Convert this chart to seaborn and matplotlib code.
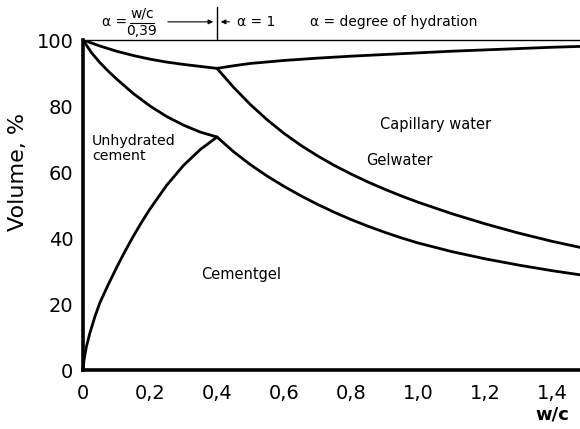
import numpy as np
import pandas as pd
import matplotlib
matplotlib.use('Agg')
import matplotlib.pyplot as plt
import seaborn as sns

# Curve points (w/c, Volume %)
wc_shrink_left = [0.0, 0.05, 0.1, 0.15, 0.2, 0.25, 0.3, 0.35, 0.4]
vol_shrink_left = [100.0, 98.2, 96.6, 95.3, 94.2, 93.3, 92.6, 92.0, 91.4]

wc_shrink_right = [0.4, 0.45, 0.5, 0.6, 0.7, 0.8, 0.9, 1.0, 1.1, 1.2, 1.3, 1.4, 1.5]
vol_shrink_right = [91.4, 92.2, 92.9, 93.8, 94.5, 95.1, 95.6, 96.1, 96.6, 97.0, 97.4, 97.8, 98.1]

wc_unhydrated = [0.0, 0.025, 0.05, 0.075, 0.1, 0.15, 0.2, 0.25, 0.3, 0.35, 0.4]
vol_unhydrated = [100.0, 96.2, 93.2, 90.6, 88.2, 83.8, 80.0, 76.8, 74.2, 72.1, 70.6]

wc_gel_left = [0.0, 0.003, 0.01, 0.02, 0.035, 0.05, 0.075, 0.1, 0.125, 0.15,
               0.175, 0.2, 0.25, 0.3, 0.35, 0.4]
vol_gel_left = [0.0, 3.0, 7.0, 11.0, 16.0, 20.3, 25.8, 31.0, 35.9, 40.5,
                44.8, 48.8, 56.0, 62.0, 66.8, 70.6]

wc_gelwater = [0.4, 0.45, 0.5, 0.55, 0.6, 0.65, 0.7, 0.75, 0.8, 0.85, 0.9, 0.95,
               1.0, 1.1, 1.2, 1.3, 1.4, 1.5]
vol_gelwater = [91.4, 85.6, 80.4, 75.8, 71.7, 68.1, 64.9, 62.0, 59.4, 57.0, 54.8, 52.75,
                50.85, 47.4, 44.3, 41.5, 39.0, 36.8]

wc_cementgel = [0.4, 0.45, 0.5, 0.55, 0.6, 0.65, 0.7, 0.75, 0.8, 0.85, 0.9, 0.95,
                1.0, 1.1, 1.2, 1.3, 1.4, 1.5]
vol_cementgel = [70.6, 66.1, 62.2, 58.75, 55.65, 52.8, 50.2, 47.8, 45.6, 43.6, 41.75, 40.05,
                 38.5, 35.9, 33.7, 31.8, 30.1, 28.6]

xticks = [0, 0.2, 0.4, 0.6, 0.8, 1.0, 1.2, 1.4]
xticklabels = ['0', '0,2', '0,4', '0,6', '0,8', '1,0', '1,2', '1,4']
yticks = [0, 20, 40, 60, 80, 100]

sns.set_style('white')
plt.rcParams['font.family'] = ['DejaVu Sans']
plt.rcParams['text.color'] = 'black'
plt.rcParams['axes.labelcolor'] = 'black'

fig = plt.figure(figsize=(5.8, 4.29), dpi=100)
ax = fig.add_axes([83 / 580, 59 / 429, 497 / 580, 330 / 429])

curvas = [
    (wc_shrink_left, vol_shrink_left),
    (wc_shrink_right, vol_shrink_right),
    (wc_unhydrated, vol_unhydrated),
    (wc_gel_left, vol_gel_left),
    (wc_gelwater, vol_gelwater),
    (wc_cementgel, vol_cementgel),
]
for xs, ys in curvas:
    df = pd.DataFrame({'wc': xs, 'vol': ys})
    sns.lineplot(x='wc', y='vol', data=df, ax=ax, color='black',
                 linewidth=2.0, sort=False, estimator=None)

ax.set_xlim(0, 497 / 335)
ax.set_ylim(0, 100)
ax.set_xticks(xticks)
ax.set_xticklabels(xticklabels)
ax.set_yticks(yticks)
ax.tick_params(axis='both', direction='out', length=4, width=1, colors='black',
               labelsize=14, pad=3)
ax.tick_params(axis='x', pad=6)

for s in ['left', 'bottom']:
    ax.spines[s].set_linewidth(2.6)
    ax.spines[s].set_color('black')
ax.spines['top'].set_linewidth(1.0)
ax.spines['top'].set_color('black')
ax.spines['right'].set_visible(False)

ax.set_xlabel('')
ax.set_ylabel('Volume, %', fontsize=16)
ax.yaxis.set_label_coords(-0.11, 0.6)
ax.text(0.945, -0.135, 'w/c', transform=ax.transAxes, ha='center', va='center',
        fontsize=13, fontweight='bold')

# region labels
ax.text(0.027, 67, 'Unhydrated\ncement', fontsize=10.2, ha='left', va='center',
        linespacing=1.1)
ax.text(0.887, 74.5, 'Capillary water', fontsize=10.5, ha='left', va='center')
ax.text(0.845, 63.6, 'Gelwater', fontsize=10.5, ha='left', va='center')
ax.text(0.352, 28.8, 'Cementgel', fontsize=10.5, ha='left', va='center')

# top annotation
ax.text(0.057, 105.5, 'α =', fontsize=10, ha='left', va='center', clip_on=False)
ax.text(0.176, 108.0, 'w/c', fontsize=10, ha='center', va='center', clip_on=False)
ax.plot([0.14, 0.212], [105.3, 105.3], color='black', lw=0.8, clip_on=False)
ax.text(0.176, 102.8, '0,39', fontsize=10, ha='center', va='center', clip_on=False)
ax.plot([0.4, 0.4], [100, 110], color='black', lw=1.0, clip_on=False)
ax.annotate('', xy=(0.397, 105.5), xytext=(0.245, 105.5),
            arrowprops=dict(arrowstyle='-|>', color='black', lw=0.8,
                            mutation_scale=7), annotation_clip=False)
ax.annotate('', xy=(0.403, 105.5), xytext=(0.445, 105.5),
            arrowprops=dict(arrowstyle='-|>', color='black', lw=0.8,
                            mutation_scale=7), annotation_clip=False)
ax.text(0.46, 105.5, 'α = 1', fontsize=10, ha='left', va='center', clip_on=False)
ax.text(0.678, 105.5, 'α = degree of hydration', fontsize=10, ha='left',
        va='center', clip_on=False)

fig.savefig('out.png', dpi=100)
